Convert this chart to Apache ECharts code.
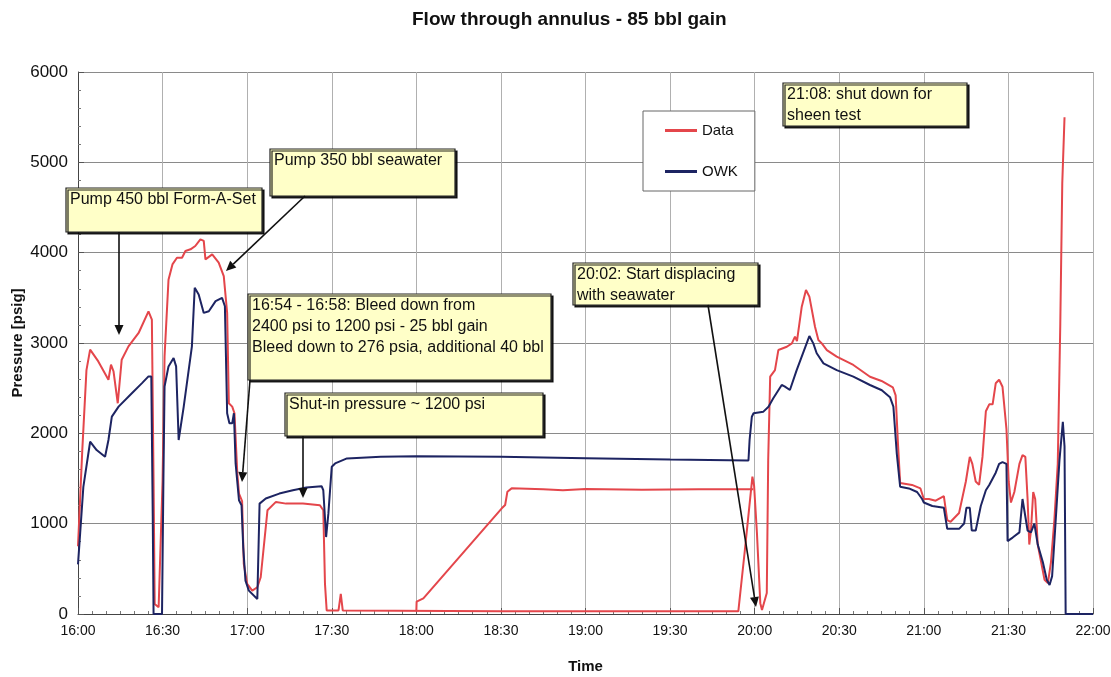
<!DOCTYPE html>
<html><head><meta charset="utf-8">
<script src="https://cdn.jsdelivr.net/npm/echarts/dist/echarts.min.js"></script>
<style>html,body{margin:0;padding:0;background:#fff}#c{width:1111px;height:677px}</style>
</head><body><div id="c"></div>
<script>
// minutes after 16:00
const timeLabels = ['16:00','16:30','17:00','17:30','18:00','18:30','19:00','19:30','20:00','20:30','21:00','21:30','22:00'];

const dataMin = [0,1.5,3.0,4.3,7.2,10.8,11.7,12.6,14.1,15.5,17.9,21.5,25,26.2,26.8,27.2,28.6,29.2,30.0,30.7,32.1,33.5,35.1,36.9,38.1,39.9,41.6,43.4,44.6,45.2,47.6,49.9,51.7,52.9,53.5,54.7,55.5,56.5,57.1,58.2,58.8,60,61.8,63.6,64.8,67.2,70.2,73.8,79.8,85.8,87,87.6,88.2,92.4,93.2,93.9,150,200,234.2,236.5,239.2,239.8,240.8,242,242.6,244.3,244.8,245.5,247.2,248.4,251.4,253.2,254.3,255,256.7,258.2,259.4,261.4,262.6,263.8,265.6,269.1,275,280.9,285,289,290,290.8,291.6,292.3,295.8,298.8,300,301.8,304.2,307.1,308.3,309.5,312.5,314.9,316.3,317.2,318.4,319.6,320.8,322,323.2,324.4,325.5,326.7,327.9,329.3,330.1,330.9,332.1,333.9,335,336,336.8,337.4,338,338.8,339.5,340.4,341.6,342.8,344,345.1,346.3,347.5,348.4,349.1,349.9];
const dataPsi = [750,1800,2700,2926,2796,2593,2760,2685,2333,2815,2963,3111,3350,3259,1481,111,74,93,1481,2852,3700,3870,3944,3944,4019,4037,4074,4148,4130,3926,3981,3889,3741,3333,2333,2296,2222,1556,1333,1250,556,333,259,296,407,1148,1241,1222,1222,1204,1148,333,40,40,222,40,30,30,30,700,1520,1420,900,120,44,232,1705,2627,2700,2922,2958,2996,3070,3020,3402,3587,3513,3180,3033,2996,2922,2849,2757,2627,2580,2510,2420,1900,1450,1440,1429,1390,1273,1273,1254,1304,1040,1021,1118,1467,1739,1662,1467,1429,1739,2244,2321,2321,2554,2593,2516,2050,1467,1234,1351,1662,1759,1739,1273,769,924,1351,1273,769,575,380,342,575,1040,1662,3214,4767,5500];

// second branch of the Data trace (ramp after 18:00)
const rampMin = [120,120.1,122.5,150.3,151.5,152.3,153.8,165,172,180,200,220,239.5];
const rampPsi = [30,137,174,1170,1207,1354,1391,1380,1370,1385,1375,1380,1380];

const owkMin = [0,1.9,4.3,6.6,9.6,10.8,12,14.4,19.1,22.7,25,26,26.5,26.8,29.8,30.3,30.7,32.1,33.9,34.8,35.7,37.5,40.4,41.4,42.8,44.6,46.4,48.8,51.1,52.1,52.9,53.7,54.7,55.3,55.9,57.1,58,58.6,59.4,60.6,63.6,64.4,66.6,71.4,76.2,81,86.4,87,88,88.8,90,91.2,95.4,107.4,120,150,180,210,237.8,238.2,239,239.6,243.1,244.9,246.6,249.6,250.6,252.5,254.9,259.4,260.8,262,264.4,269.1,275,280.9,285.1,288,289.2,290.4,291.6,294.7,297.6,299.4,300,303,307.1,308.3,312.5,314.3,315.1,316.3,317,318.4,320.2,322,323.2,325.5,326.7,327.9,329.3,329.7,331.5,333.9,335,336,336.8,338,339.2,340.4,342.2,343.6,344.6,345.5,346.7,348.1,349.3,349.9,350.3,360];
const owkPsi = [550,1407,1907,1815,1741,1926,2185,2296,2444,2556,2630,2630,1111,0,0,1500,2519,2741,2833,2741,1926,2296,2963,3611,3537,3333,3352,3463,3500,3407,2222,2111,2111,2222,1667,1259,1204,741,370,259,167,1222,1278,1333,1370,1400,1415,1370,852,1111,1630,1667,1722,1741,1745,1740,1725,1710,1700,1926,2184,2222,2240,2295,2388,2535,2520,2480,2700,3077,2996,2886,2775,2700,2627,2535,2477,2400,2295,1779,1409,1390,1351,1273,1234,1196,1176,943,943,1002,1176,1176,924,924,1196,1370,1429,1564,1662,1681,1662,807,846,904,1273,1079,924,904,1002,769,575,380,322,419,1002,1700,2127,1856,0,0];

const annotations = [
  {x:66, y:188, w:196, h:44, text:'Pump 450 bbl Form-A-Set', arrow:[119,232,119,335]},
  {x:270, y:149, w:185, h:47, text:'Pump 350 bbl seawater', arrow:[305,196,226,271]},
  {x:248, y:294, w:303, h:86, text:'16:54 - 16:58: Bleed down from\n2400 psi to 1200 psi - 25 bbl gain\nBleed down to 276 psia, additional 40 bbl', arrow:[250,380,242,482]},
  {x:285, y:393, w:258, h:43, text:'Shut-in pressure ~ 1200 psi', arrow:[303,436,303,498]},
  {x:573, y:263, w:185, h:42, text:'20:02: Start displacing\nwith seawater', arrow:[708,305,756,607]},
  {x:783, y:83, w:184, h:43, text:'21:08: shut down for\nsheen test', arrow:null}
];

const FONT = '"Liberation Sans", Arial, sans-serif';
const zip = (a,b) => a.map((v,i)=>[v,b[i]]);
const RED = '#e4464b', BLUE = '#1d2462';

const chart = echarts.init(document.getElementById('c'), null, {renderer:'canvas'});

function arrowEls(a){
  const [x1,y1,x2,y2] = a;
  const ang = Math.atan2(y2-y1, x2-x1), L = 10, W = 4.5;
  const bx = x2 - L*Math.cos(ang), by = y2 - L*Math.sin(ang);
  const px = -Math.sin(ang), py = Math.cos(ang);
  return [
    {type:'line', z:100, shape:{x1:x1,y1:y1,x2:bx,y2:by}, style:{stroke:'#111', lineWidth:1.6}},
    {type:'polygon', z:100, shape:{points:[[x2,y2],[bx+px*W,by+py*W],[bx-px*W,by-py*W]]}, style:{fill:'#111'}}
  ];
}
const graphics = [];
annotations.forEach(a => {
  graphics.push({type:'rect', z:100, shape:{x:a.x, y:a.y, width:a.w, height:a.h},
    style:{fill:'#ffffc8', stroke:'#222', lineWidth:1.2, shadowColor:'rgba(0,0,0,0.85)', shadowOffsetX:2, shadowOffsetY:2, shadowBlur:0}});
  graphics.push({type:'text', z:101, x:a.x+4, y:a.y+1,
    style:{text:a.text, fontSize:16, fontFamily:FONT, fill:'#111', lineHeight:21}});
  if (a.arrow) arrowEls(a.arrow).forEach(e => graphics.push(e));
});

chart.setOption({
  animation:false,
  backgroundColor:'#fff',
  title:{text:'Flow through annulus - 85 bbl gain', left:407, top:5,
    textStyle:{fontSize:19, fontWeight:'bold', fontFamily:FONT, color:'#111'}},
  legend:{data:['Data','OWK'], orient:'vertical', left:643, top:111,
    padding:[12,17,12,22], itemGap:26, itemWidth:32, itemHeight:3, icon:'rect',
    backgroundColor:'#fff', borderColor:'#666', borderWidth:1,
    textStyle:{fontSize:15, fontFamily:FONT, color:'#111'}},
  grid:{left:78, right:18, top:72, bottom:63, containLabel:false, outerBoundsMode:'none'},
  xAxis:{type:'value', min:0, max:360, interval:30,
    name:'Time', nameLocation:'middle', nameGap:45, nameMoveOverlap:false,
    nameTextStyle:{fontSize:15, fontWeight:'bold', fontFamily:FONT, color:'#111'},
    axisLine:{show:true, lineStyle:{color:'#444', width:1}},
    axisTick:{show:true, inside:true, length:6, lineStyle:{color:'#555'}},
    minorTick:{show:true, splitNumber:6, length:3, lineStyle:{color:'#777'}},
    axisLabel:{fontSize:14, fontFamily:FONT, color:'#111', margin:10,
      formatter: v => timeLabels[Math.round(v/30)]},
    splitLine:{show:true, lineStyle:{color:'#b0b0b0', width:1}}},
  yAxis:{type:'value', min:0, max:6000, interval:1000,
    name:'Pressure [psig]', nameLocation:'middle', nameGap:53, nameMoveOverlap:false,
    nameTextStyle:{fontSize:15, fontWeight:'bold', fontFamily:FONT, color:'#111'},
    axisLine:{show:true, lineStyle:{color:'#444', width:1}},
    axisTick:{show:true, inside:true, length:6, lineStyle:{color:'#555'}},
    minorTick:{show:true, splitNumber:5, length:3, lineStyle:{color:'#777'}},
    axisLabel:{fontSize:17, fontFamily:FONT, color:'#111', margin:10,
      formatter: v => String(v)},
    splitLine:{show:true, lineStyle:{color:'#8a8a8a', width:1}}},
  series:[
    {name:'Data', type:'line', data:zip(dataMin,dataPsi), showSymbol:false, symbol:'none',
      lineStyle:{color:RED, width:2}, itemStyle:{color:RED}, z:2},
    {name:'Data', type:'line', data:zip(rampMin,rampPsi), showSymbol:false, symbol:'none',
      lineStyle:{color:RED, width:2}, itemStyle:{color:RED}, z:2},
    {name:'OWK', type:'line', data:zip(owkMin,owkPsi), showSymbol:false, symbol:'none',
      lineStyle:{color:BLUE, width:2}, itemStyle:{color:BLUE}, z:3}
  ],
  graphic:graphics
});
</script>
</body></html>
